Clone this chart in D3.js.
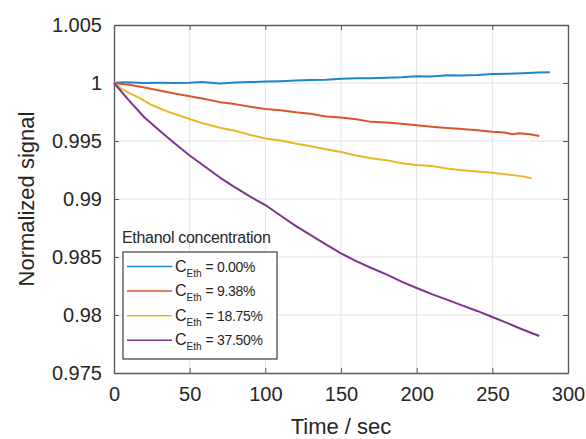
<!DOCTYPE html>
<html>
<head>
<meta charset="utf-8">
<script src="https://cdn.jsdelivr.net/npm/d3@7"></script>
<style>
  body { margin: 0; background: #fff; }
  text { font-family: "Liberation Sans", Arial, sans-serif; fill: #262626; }
</style>
</head>
<body>
<div id="chart-holder"></div>
<script>
// data
var xTicks = [0, 50, 100, 150, 200, 250, 300];
var yTicks = [0.975, 0.98, 0.985, 0.99, 0.995, 1, 1.005];

var labels = ["0.00%", "9.38%", "18.75%", "37.50%"];
var colors = ["#1f86c8", "#d9562a", "#e8b828", "#7b3590"];

var tBlue = [0, 6, 12, 20, 30, 40, 50, 58, 64, 70, 80, 90, 100, 110, 120, 130, 140, 150, 160, 170, 180, 190, 200, 210, 220, 230, 240, 250, 260, 270, 280, 288];
var vBlue = [1.0000, 1.00006, 1.00004, 1.00001, 1.00002, 1.00001, 1.00003, 1.00009, 1.00002, 0.99996, 1.00004, 1.00008, 1.00012, 1.00016, 1.00022, 1.00026, 1.00029, 1.00036, 1.00040, 1.00042, 1.00046, 1.00050, 1.00058, 1.00055, 1.00066, 1.00065, 1.00070, 1.00078, 1.00080, 1.00084, 1.00090, 1.00092];

var tRed = [0, 10, 20, 30, 40, 50, 60, 70, 80, 90, 100, 110, 120, 130, 140, 150, 160, 170, 180, 190, 200, 210, 220, 230, 240, 250, 258, 263, 268, 275, 281];
var vRed = [1.0000, 0.99985, 0.99962, 0.99935, 0.9991, 0.99885, 0.99862, 0.99835, 0.99818, 0.99795, 0.99775, 0.99765, 0.99748, 0.99735, 0.99712, 0.99702, 0.99688, 0.99665, 0.99660, 0.99648, 0.99636, 0.99622, 0.99612, 0.99604, 0.99592, 0.9958, 0.99574, 0.99558, 0.99566, 0.99558, 0.99543];

var tYellow = [0, 5, 10, 17, 25, 35, 50, 60, 70, 80, 90, 100, 110, 120, 130, 140, 150, 160, 170, 180, 190, 200, 210, 220, 230, 240, 250, 260, 270, 276];
var vYellow = [1.0000, 0.9995, 0.99915, 0.9987, 0.9981, 0.99755, 0.9969, 0.99648, 0.99615, 0.99588, 0.99552, 0.99522, 0.99505, 0.99478, 0.99455, 0.99428, 0.99405, 0.99375, 0.99352, 0.99335, 0.99308, 0.99293, 0.99285, 0.99262, 0.99248, 0.99238, 0.99227, 0.99212, 0.99195, 0.99178];

var tPurple = [0, 10, 20, 30, 40, 50, 60, 70, 80, 90, 100, 110, 120, 130, 140, 150, 160, 170, 180, 190, 200, 210, 220, 230, 240, 250, 260, 270, 281];
var vPurple = [1, 0.99848, 0.99705, 0.9959, 0.9948, 0.99375, 0.9928, 0.99185, 0.991, 0.9902, 0.98948, 0.98858, 0.98768, 0.98688, 0.98608, 0.98532, 0.98465, 0.98405, 0.9835, 0.98288, 0.98233, 0.9818, 0.98133, 0.98083, 0.98035, 0.97983, 0.9793, 0.97875, 0.97819];

var series = [[tBlue, vBlue], [tRed, vRed], [tYellow, vYellow], [tPurple, vPurple]];

// chart area
var width = 586, height = 439;
var plotLeft = 114, plotRight = 568, plotTop = 25, plotBottom = 373;

var svg = d3.select("#chart-holder")
  .append("svg")
  .attr('width', width)
  .attr('height', height);

var x = d3.scaleLinear().domain([0, 300]).range([plotLeft, plotRight]);
var y = d3.scaleLinear().domain([0.975, 1.005]).range([plotBottom, plotTop]);

// grid
svg.selectAll("line.gx")
  .data(xTicks.slice(1, -1))
  .enter()
  .append("line")
  .attr('x1', function(d) { return x(d); })
  .attr('x2', function(d) { return x(d); })
  .attr('y1', plotTop)
  .attr('y2', plotBottom)
  .attr('stroke', '#e3e3e3')
  .attr('stroke-width', 1);

svg.selectAll("line.gy")
  .data(yTicks.slice(1, -1))
  .enter()
  .append("line")
  .attr('x1', plotLeft)
  .attr('x2', plotRight)
  .attr('y1', function(d) { return y(d); })
  .attr('y2', function(d) { return y(d); })
  .attr('stroke', '#e3e3e3')
  .attr('stroke-width', 1);

// axes with inward ticks, box on all four sides
var fmt = function(d) { return String(+d.toFixed(3)); };

var xAxis = svg.append("g")
  .attr('transform', 'translate(0,' + plotBottom + ')')
  .call(d3.axisBottom(x).tickValues(xTicks).tickSizeInner(-5).tickSizeOuter(0).tickPadding(14));
var yAxis = svg.append("g")
  .attr('transform', 'translate(' + plotLeft + ',0)')
  .call(d3.axisLeft(y).tickValues(yTicks).tickFormat(fmt).tickSizeInner(-5).tickSizeOuter(0).tickPadding(12));
var xTop = svg.append("g")
  .attr('transform', 'translate(0,' + plotTop + ')')
  .call(d3.axisTop(x).tickValues(xTicks).tickSizeInner(-5).tickSizeOuter(0).tickFormat(""));
var yRight = svg.append("g")
  .attr('transform', 'translate(' + plotRight + ',0)')
  .call(d3.axisRight(y).tickValues(yTicks).tickSizeInner(-5).tickSizeOuter(0).tickFormat(""));

[xAxis, yAxis, xTop, yRight].forEach(function(g) {
  g.selectAll("path").attr('stroke', '#5a5a5a').attr('stroke-width', 1.4);
  g.selectAll("line").attr('stroke', '#5a5a5a').attr('stroke-width', 1);
  g.selectAll("text")
    .style('font-family', '"Liberation Sans", Arial, sans-serif')
    .style('font-size', '20px')
    .attr('fill', '#262626');
});

// axis titles
svg.append("text")
  .attr('x', (plotLeft + plotRight) / 2)
  .attr('y', 434)
  .attr('text-anchor', 'middle')
  .style('font-size', '22px')
  .text("Time / sec");

svg.append("text")
  .attr('transform', 'translate(34,' + ((plotTop + plotBottom) / 2) + ') rotate(-90)')
  .attr('text-anchor', 'middle')
  .style('font-size', '22px')
  .text("Normalized signal");

// lines
var line = d3.line()
  .x(function(d) { return x(d[0]); })
  .y(function(d) { return y(d[1]); });

series.forEach(function(s, i) {
  var pts = s[0].map(function(t, j) { return [t, s[1][j]]; });
  svg.append("path")
    .datum(pts)
    .attr('d', line)
    .attr('fill', 'none')
    .attr('stroke', colors[i])
    .attr('stroke-width', 2)
    .attr('stroke-linejoin', 'round');
});

// legend
var legX = 123, legY = 252, legW = 154, legH = 107;
svg.append("text")
  .attr('x', legX - 1)
  .attr('y', 243)
  .style('font-size', '16px')
  .style('letter-spacing', '-0.3px')
  .text("Ethanol concentration");

svg.append("rect")
  .attr('x', legX)
  .attr('y', legY)
  .attr('width', legW)
  .attr('height', legH)
  .attr('fill', '#fff')
  .attr('stroke', '#3a3a3a')
  .attr('stroke-width', 1.2);

var rowY = function(d, i) { return 266.5 + i * 24.6; };

svg.selectAll("line.leg")
  .data(labels)
  .enter()
  .append("line")
  .attr('x1', 127)
  .attr('x2', 172)
  .attr('y1', rowY)
  .attr('y2', rowY)
  .attr('stroke', function(d, i) { return colors[i]; })
  .attr('stroke-width', 1.5);

var legText = svg.selectAll("text.leg")
  .data(labels)
  .enter()
  .append("text")
  .attr('class', 'leg')
  .attr('x', 175)
  .attr('y', function(d, i) { return rowY(d, i) + 5; })
  .style('font-size', '16px');
legText.append("tspan").text("C");
legText.append("tspan").attr('dy', 5).style('font-size', '10px').text("Eth");
legText.append("tspan").attr('dy', -5).attr('dx', 4).style('font-size', '14px')
  .style('letter-spacing', '-0.3px')
  .text(function(d) { return "= " + d; });
</script>
</body>
</html>
